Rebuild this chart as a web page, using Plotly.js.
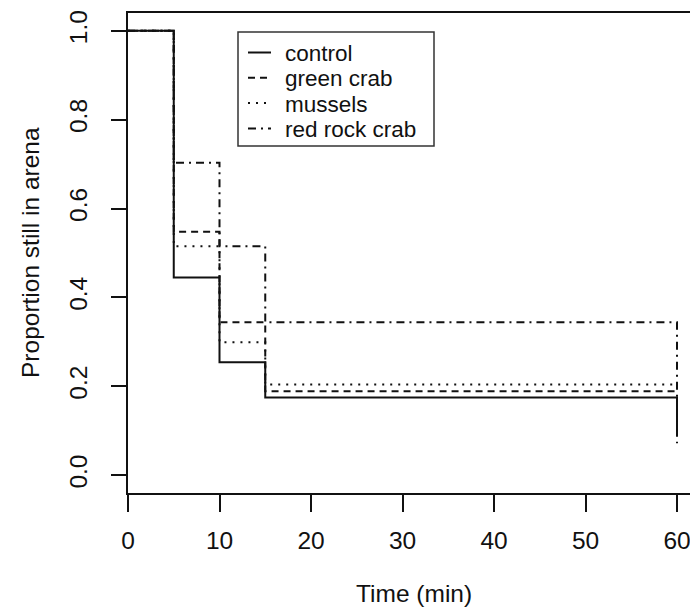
<!DOCTYPE html>
<html>
<head>
<meta charset="utf-8">
<script src="https://cdn.plot.ly/plotly-3.0.1.min.js"></script>
<style>html,body{margin:0;padding:0;background:#fff;}#chart{width:690px;height:614px;}</style>
</head>
<body>
<div id="chart"></div>
<script>
// Data (Kaplan-Meier style step curves)
var times = [0, 5, 10, 15, 60];
var control = [1.0, 0.445, 0.254, 0.175, 0.09];
var greenCrab = [1.0, 0.548, 0.344, 0.189, 0.189];
var mussels = [1.0, 0.515, 0.299, 0.204, 0.204];
var redRockCrab = [1.0, 0.703, 0.515, 0.344, 0.072];
var seriesNames = ["control", "green crab", "mussels", "red rock crab"];
var xTicks = [0, 10, 20, 30, 40, 50, 60];
var yTicks = [0, 0.2, 0.4, 0.6, 0.8, 1.0];

var FONT = "Liberation Sans, Arial, sans-serif";
var INK = "#111";
var dashes = ["solid", "7px,5px", "2px,6px", "8px,5px,2px,5px"];
var seriesY = [control, greenCrab, mussels, redRockCrab];

var traces = seriesY.map(function (ys, i) {
  return {
    x: times, y: ys, name: seriesNames[i], type: "scatter", mode: "lines",
    line: {shape: "hv", color: INK, width: 2, dash: dashes[i]},
    showlegend: false, hoverinfo: "skip"
  };
});

// Plot area geometry (pixels)
var L = 128, R = 690, T = 13, B = 493, W = 690, H = 614;
function px(x) { return (x - L) / (R - L); }
function py(y) { return (B - y) / (B - T); }

var shapes = [];
var annotations = [];
// Legend box
shapes.push({type: "rect", xref: "paper", yref: "paper",
  x0: px(238), x1: px(434), y0: py(146), y1: py(32),
  line: {color: "#333", width: 1.5}, fillcolor: "rgba(0,0,0,0)"});
for (var i = 0; i < seriesNames.length; i++) {
  var yy = 52.5 + 25.3 * i;
  shapes.push({type: "line", xref: "paper", yref: "paper",
    x0: px(248), x1: px(271), y0: py(yy), y1: py(yy),
    line: {color: INK, width: 2, dash: dashes[i]}});
  annotations.push({xref: "paper", yref: "paper", x: px(284), y: py(yy + 1),
    xanchor: "left", yanchor: "middle", showarrow: false, text: seriesNames[i],
    borderpad: 0,
    font: {family: FONT, size: 22.5, color: INK}});
}
// Axis titles
annotations.push({xref: "paper", yref: "paper", x: px(414), y: py(593),
  xanchor: "center", yanchor: "middle", showarrow: false, text: "Time (min)",
  font: {family: FONT, size: 24.5, color: INK}});
annotations.push({xref: "paper", yref: "paper", x: px(30), y: py(253),
  xanchor: "center", yanchor: "middle", showarrow: false, textangle: -90,
  text: "Proportion still in arena",
  font: {family: FONT, size: 24.5, color: INK}});

var layout = {
  width: W, height: H,
  margin: {l: L, r: W - R, t: T, b: H - B, pad: 0},
  paper_bgcolor: "#fff", plot_bgcolor: "#fff",
  showlegend: false,
  xaxis: {
    range: [0, 562 / 9.15], showgrid: false, zeroline: false,
    showline: true, linecolor: INK, linewidth: 2, mirror: true,
    ticks: "outside", ticklen: 17, tickwidth: 2, tickcolor: INK,
    tickvals: xTicks, ticktext: xTicks.map(String),
    ticklabeloverflow: "allow", ticklabelstandoff: 8,
    tickfont: {family: FONT, size: 24.5, color: INK}
  },
  yaxis: {
    range: [-0.04, 1.04], showgrid: false, zeroline: false,
    showline: true, linecolor: INK, linewidth: 2, mirror: false,
    ticks: "outside", ticklen: 15, tickwidth: 2, tickcolor: INK,
    tickvals: yTicks, ticktext: yTicks.map(function (v) { return v.toFixed(1); }),
    tickangle: -90, ticklabelstandoff: 14,
    tickfont: {family: FONT, size: 24.5, color: INK}
  },
  shapes: shapes,
  annotations: annotations
};

Plotly.newPlot("chart", traces, layout, {staticPlot: true, displayModeBar: false});
</script>
</body>
</html>
